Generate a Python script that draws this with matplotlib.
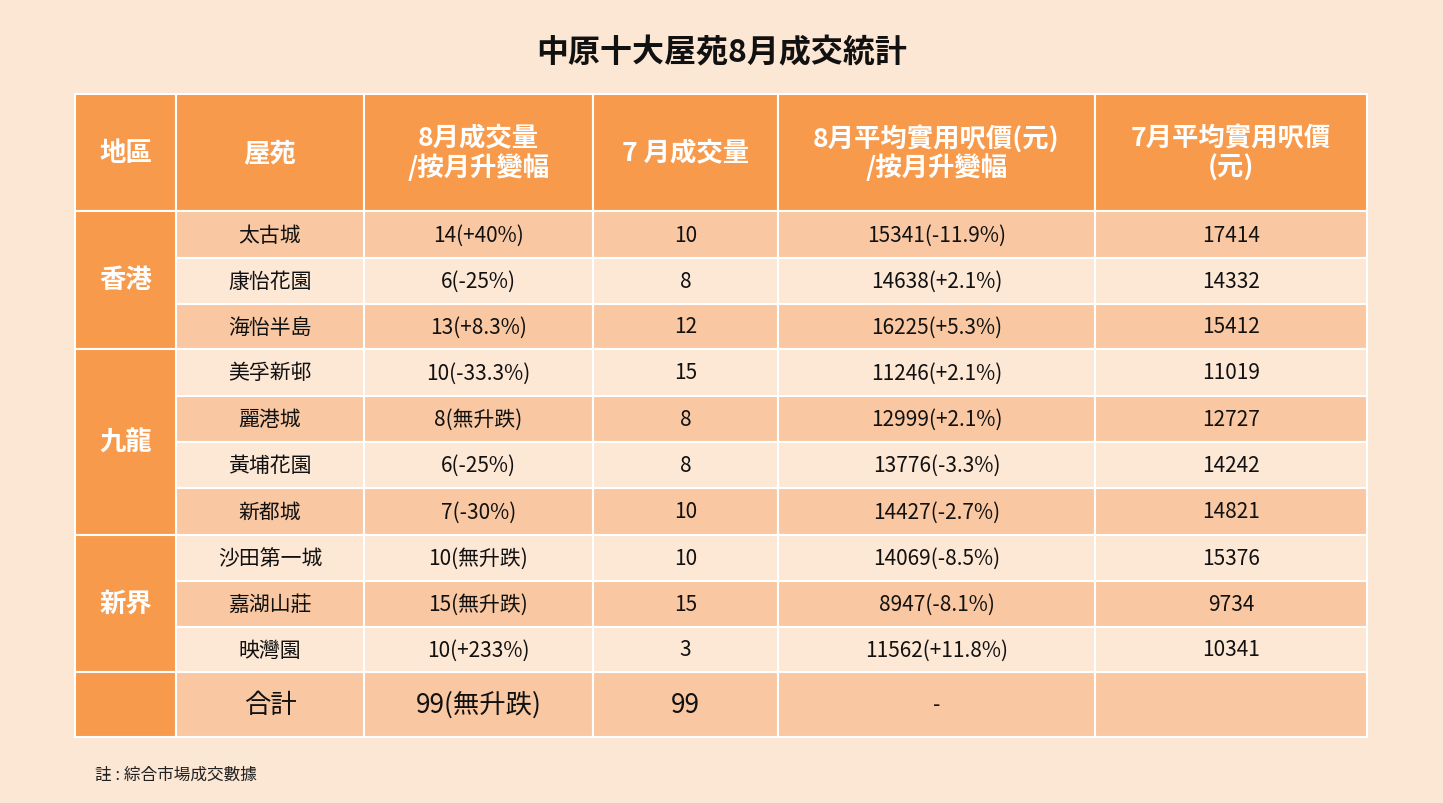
import matplotlib
matplotlib.use('Agg')
import matplotlib.pyplot as plt
from matplotlib.patches import Rectangle

plt.rcParams.update({'font.family': ['Noto Sans CJK JP', 'Noto Sans CJK TC', 'Noto Sans CJK SC',
                                     'Noto Sans CJK KR', 'DejaVu Sans']})

# ---- data ----
headers = ['地區', '屋苑', '8月成交量\n/按月升變幅', '7 月成交量',
           '8月平均實用呎價(元)\n/按月升變幅', '7月平均實用呎價\n(元)']
regions = [('香港', 0, 3), ('九龍', 3, 7), ('新界', 7, 10)]
estates = ['太古城', '康怡花園', '海怡半島', '美孚新邨', '麗港城', '黃埔花園',
           '新都城', '沙田第一城', '嘉湖山莊', '映灣園']
aug_vol = ['14(+40%)', '6(-25%)', '13(+8.3%)', '10(-33.3%)', '8(無升跌)', '6(-25%)',
           '7(-30%)', '10(無升跌)', '15(無升跌)', '10(+233%)']
jul_vol = [10, 8, 12, 15, 8, 8, 10, 10, 15, 3]
aug_price = ['15341(-11.9%)', '14638(+2.1%)', '16225(+5.3%)', '11246(+2.1%)',
             '12999(+2.1%)', '13776(-3.3%)', '14427(-2.7%)', '14069(-8.5%)',
             '8947(-8.1%)', '11562(+11.8%)']
jul_price = [17414, 14332, 15412, 11019, 12727, 14242, 14821, 15376, 9734, 10341]
total_row = ['合計', '99(無升跌)', '99', '-', '']

# ---- layout (pixels) ----
W, H = 1443, 804
BG = '#fce6d4'
ORANGE = '#f79a4c'
DARK = '#f9c8a2'
LIGHT = '#fde7d5'
xs = [75, 176, 364, 593, 778, 1095, 1367]
head_top, head_bot = 95, 212
row_edges = [212, 259, 305, 350, 397, 443, 489, 536, 582, 628, 673]
tot_bot = 738

fig = plt.figure(figsize=(W / 100, H / 100), dpi=100)
fig.patch.set_facecolor(BG)
ax = fig.add_axes([0, 0, 1, 1])
ax.set_xlim(0, W); ax.set_ylim(H, 0); ax.axis('off')

def cell(x0, x1, y0, y1, fc):
    ax.add_patch(Rectangle((x0, y0), x1 - x0, y1 - y0, fc=fc, ec='white', lw=1.5))

ax.text(W / 2, 53, '中原十大屋苑8月成交統計', ha='center', va='center',
        fontsize=23, fontweight='bold', color='#111')

# header
for i, h in enumerate(headers):
    cell(xs[i], xs[i + 1], head_top, head_bot, ORANGE)
    ax.text((xs[i] + xs[i + 1]) / 2, (head_top + head_bot) / 2, h, ha='center',
            va='center', fontsize=19, fontweight='bold', color='white', linespacing=1.1)

# body rows
for r in range(len(estates)):
    y0, y1 = row_edges[r], row_edges[r + 1]
    fc = DARK if r % 2 == 0 else LIGHT
    vals = [estates[r], aug_vol[r], str(jul_vol[r]), aug_price[r], str(jul_price[r])]
    for c, v in enumerate(vals):
        cell(xs[c + 1], xs[c + 2], y0, y1, fc)
        ax.text((xs[c + 1] + xs[c + 2]) / 2, (y0 + y1) / 2, v, ha='center', va='center',
                fontsize=15, color='#111')

# region cells
for name, a, b in regions:
    y0, y1 = row_edges[a], row_edges[b]
    cell(xs[0], xs[1], y0, y1, ORANGE)
    ax.text((xs[0] + xs[1]) / 2, (y0 + y1) / 2, name, ha='center', va='center',
            fontsize=19, fontweight='bold', color='white')

# total row
y0, y1 = row_edges[-1], tot_bot
cell(xs[0], xs[1], y0, y1, ORANGE)
for c, v in enumerate(total_row):
    cell(xs[c + 1], xs[c + 2], y0, y1, DARK)
    ax.text((xs[c + 1] + xs[c + 2]) / 2, (y0 + y1) / 2, v, ha='center', va='center',
            fontsize=19 if c < 3 else 15, color='#111')

ax.text(95, 775, '註 : 綜合市場成交數據', ha='left', va='center', fontsize=12, color='#222')

fig.savefig('out.png', dpi=100, facecolor=BG)
